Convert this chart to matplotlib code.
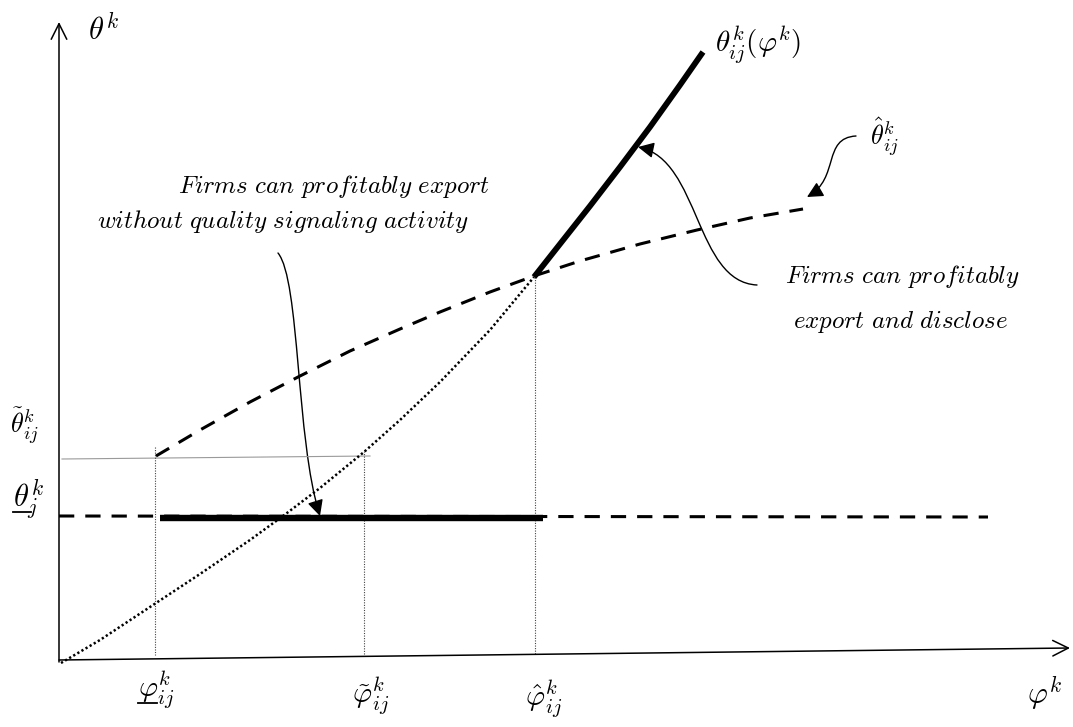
import matplotlib
matplotlib.use("Agg")
import matplotlib.pyplot as plt
from matplotlib.patches import FancyArrowPatch
from matplotlib.path import Path

plt.rcParams['mathtext.fontset'] = 'cm'

# ---- data (diagram units: x to the right, y downward as in the picture) ----
# dashed concave curve  theta_hat_ij(phi)
hat_x = [156, 200, 250, 300, 350, 400, 440, 490, 534, 580, 640, 697, 750, 803]
hat_y = [456, 430, 402, 376, 351, 329, 312, 292, 276, 261, 244, 230, 218, 209]
# dotted convex curve  theta_ij(phi), lower part
dot_x = [61, 100, 153, 200, 250, 283, 320, 364, 400, 440, 490, 534]
dot_y = [663, 640, 605, 574, 540, 516, 488, 452, 420, 382, 330, 277]
# thick solid part of theta_ij(phi)
thick_x = [534, 560, 590, 620, 650, 680, 703]
thick_y = [277, 244, 206, 167, 127, 85, 52]
# horizontal levels
theta_j_level = 516          # dashed floor (theta_j underline)
thick_floor = [160, 543]      # thick segment along the floor
floor_span = [59, 988]
theta_tilde_level = [459, 456]
theta_tilde_span = [62, 370]
# cut-off productivities
phi_cut = [155, 364, 535]
phi_top = [447, 451, 277]
phi_labels = [r'$\varphi^{k}_{ij}$', r'$\tilde{\varphi}^{k}_{ij}$', r'$\hat{\varphi}^{k}_{ij}$']

# axes
x_axis = [(59, 660), (1070, 648)]
y_axis = [(59, 662), (59, 22)]

fig = plt.figure(figsize=(10.73, 7.27), dpi=100)
ax = fig.add_axes([0, 0, 1, 1])
ax.set_xlim(0, 1073)
ax.set_ylim(727, 0)
ax.axis('off')

# axes arrows
for (p0, p1) in (x_axis, y_axis):
    ax.annotate('', xy=p1, xytext=p0,
                arrowprops=dict(arrowstyle='->', lw=1.1, color='black',
                                mutation_scale=28, shrinkA=0, shrinkB=0))

# thin guides
ax.plot(theta_tilde_span, theta_tilde_level, color='#9a9a9a', lw=0.8)
for x, yt in zip(phi_cut, phi_top):
    ax.plot([x, x], [yt, 655], color='#444444', lw=0.8, linestyle=(0, (1, 1.3)))

# curves
ax.plot(floor_span, [theta_j_level, theta_j_level + 1], color='black', lw=2.2,
        dashes=(5, 3.6))
ax.plot(hat_x, hat_y, color='black', lw=2.2, dashes=(5, 3.6))
ax.plot(dot_x, dot_y, color='black', lw=1.8, dashes=(0.9, 1.0))
ax.plot(thick_x, thick_y, color='black', lw=4.2, solid_capstyle='butt')
ax.plot(thick_floor, [518, 518], color='black', lw=4.6, solid_capstyle='butt')

# annotation arrows (cubic bezier)
C = [Path.MOVETO, Path.CURVE4, Path.CURVE4, Path.CURVE4]
arrow_paths = [
    [(278, 253), (300, 280), (296, 440), (320, 516)],
    [(757, 285), (695, 282), (700, 160), (638, 147)],
    [(856, 136), (822, 138), (840, 178), (807, 197)],
]
for verts in arrow_paths:
    ax.add_patch(FancyArrowPatch(path=Path(verts, C), arrowstyle='-|>',
                                 mutation_scale=24, lw=1.0, color='black',
                                 shrinkA=0, shrinkB=0))

# sentences
txt = dict(fontsize=18, color='black', va='baseline')
ax.text(178, 193, r'$\mathit{Firms\ can\ profitably\ export}$', ha='left', **txt)
ax.text(97, 228, r'$\mathit{without\ quality\ signaling\ activity}$', ha='left', **txt)
ax.text(785, 283, r'$\mathit{Firms\ can\ profitably}$', ha='left', **txt)
ax.text(793, 328, r'$\mathit{export\ and\ disclose}$', ha='left', **txt)

# axis labels
ax.text(88, 40, r'$\theta^{k}$', fontsize=22, ha='left', va='baseline')
ax.text(1027, 704, r'$\varphi^{k}$', fontsize=22, ha='left', va='baseline')
ax.text(715, 53, r'$\theta^{k}_{ij}(\varphi^{k})$', fontsize=21, ha='left', va='baseline')
ax.text(870, 145, r'$\hat{\theta}^{k}_{ij}$', fontsize=19, ha='left', va='baseline')
ax.text(10, 433, r'$\tilde{\theta}^{k}_{ij}$', fontsize=19, ha='left', va='baseline')
ax.text(13, 507, r'$\theta^{k}_{j}$', fontsize=22, ha='left', va='baseline')
ax.plot([13, 31], [512, 512], color='black', lw=1.3)

for x, lab, base in zip([138, 352, 525], phi_labels, [698, 704, 707]):
    ax.text(x, base, lab, fontsize=21, ha='left', va='baseline')
ax.plot([138, 157], [703, 703], color='black', lw=1.3)

fig.savefig('out.png', dpi=100)
